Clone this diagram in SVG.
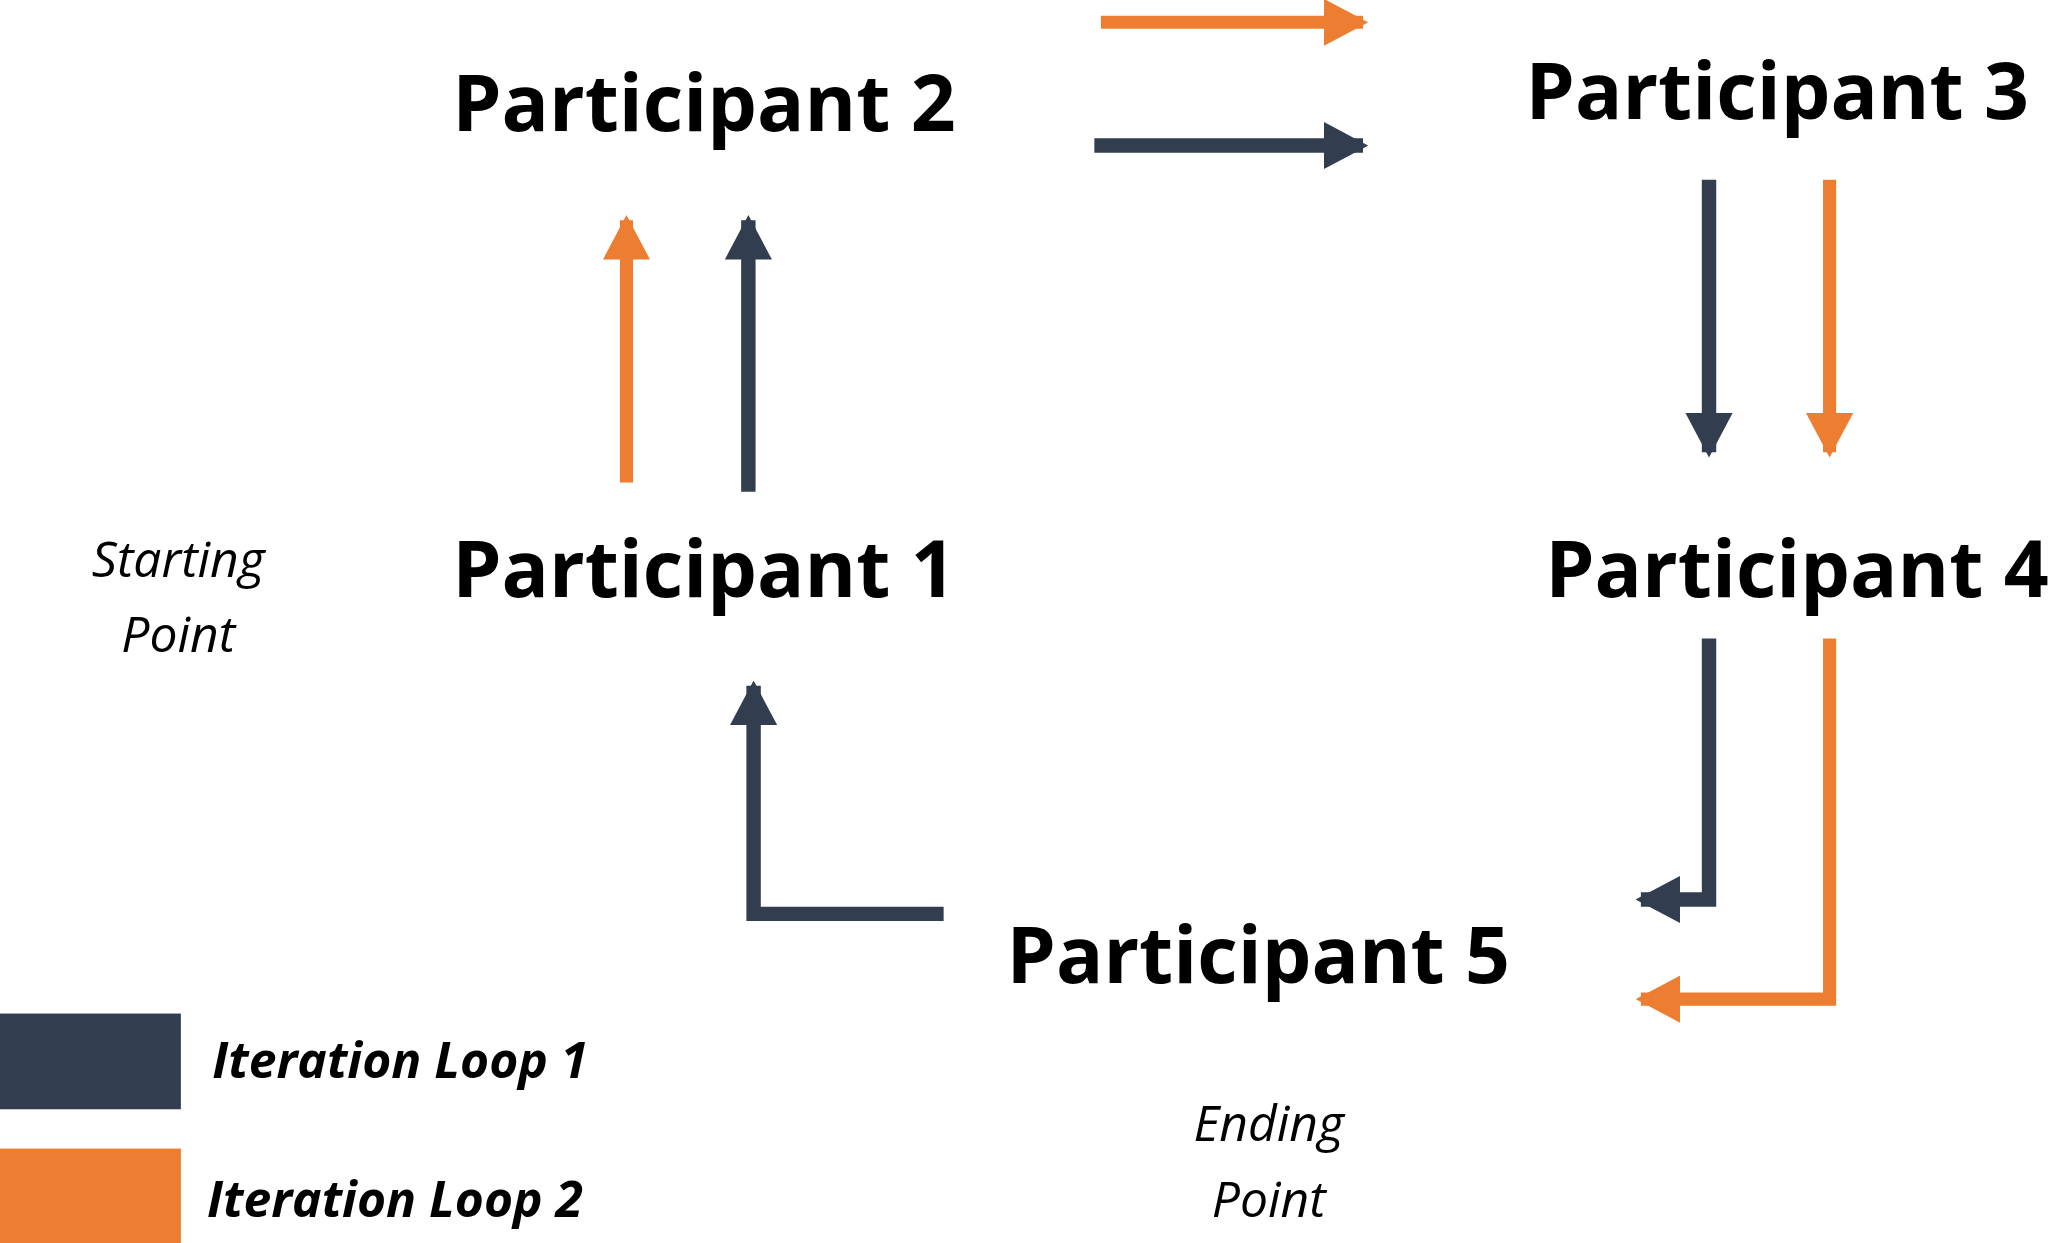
<svg xmlns="http://www.w3.org/2000/svg" width="2055" height="1243" viewBox="0 0 2055 1243">
<style>
.p{font-family:"Open Sans","Liberation Sans",sans-serif;font-weight:bold;font-size:60px;fill:#000}
.n{font-family:"Open Sans","Liberation Sans",sans-serif;font-style:italic;font-size:38px;fill:#000;text-anchor:middle}
.l{font-family:"Open Sans","Liberation Sans",sans-serif;font-style:italic;font-weight:bold;font-size:38px;fill:#000}
.d{stroke:#323E4F;stroke-width:11;fill:none}
.o{stroke:#ED7D31;stroke-width:10;fill:none}
</style>
<defs>
<marker id="hd" markerUnits="userSpaceOnUse" markerWidth="34" markerHeight="36" refX="30" refY="18" orient="auto" viewBox="0 0 34 36"><path d="M0,0 L34,18 L0,36 Z" fill="#323E4F"/></marker>
<marker id="ho" markerUnits="userSpaceOnUse" markerWidth="34" markerHeight="36" refX="30" refY="18" orient="auto" viewBox="0 0 34 36"><path d="M0,0 L34,18 L0,36 Z" fill="#ED7D31"/></marker>
</defs>
<rect width="2055" height="1243" fill="#fff"/>
<g transform="scale(1.3106,1.3112)">
<g id="connectors">
<path class="o" d="M840,17 H1040" marker-end="url(#ho)"/>
<path class="d" d="M835,111 H1040" marker-end="url(#hd)"/>
<path class="o" d="M478,368 V168" marker-end="url(#ho)"/>
<path class="d" d="M571,375 V168" marker-end="url(#hd)"/>
<path class="d" d="M1304,137 V345" marker-end="url(#hd)"/>
<path class="o" d="M1396,137 V345" marker-end="url(#ho)"/>
<path class="d" d="M1304,487 V686 H1252" marker-end="url(#hd)"/>
<path class="o" d="M1396,487 V762 H1252" marker-end="url(#ho)"/>
<path class="d" d="M720,697 H575 V523" marker-end="url(#hd)"/>
</g>
<g id="p2"><text class="p" x="345" y="100">Participant 2</text></g>
<g id="p3"><text class="p" x="1164" y="91">Participant 3</text></g>
<g id="p1"><text class="p" x="345" y="455">Participant 1</text></g>
<g id="p4"><text class="p" x="1179" y="455">Participant 4</text></g>
<g id="p5"><text class="p" x="768" y="750">Participant 5</text></g>
<g id="start"><text class="n" x="136" y="440">Starting</text><text class="n" x="136" y="497">Point</text></g>
<g id="end"><text class="n" x="968" y="870">Ending</text><text class="n" x="968" y="928">Point</text></g>
<g id="legend">
<rect x="0" y="773" width="138" height="73" fill="#323E4F"/>
<rect x="0" y="876" width="138" height="72" fill="#ED7D31"/>
<text class="l" x="162" y="822">Iteration Loop 1</text>
<text class="l" x="158" y="928">Iteration Loop 2</text>
</g>
</g>
</svg>
